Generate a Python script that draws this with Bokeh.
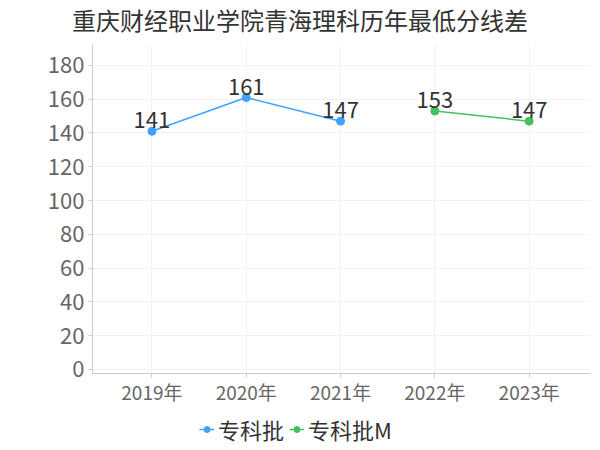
from bokeh.plotting import figure
from bokeh.layouts import column
from bokeh.models import (ColumnDataSource, Legend, LegendItem, FixedTicker, Range1d,
                          LabelSet, Div)
from bokeh.core.properties import value
from bokeh.embed import file_html
from bokeh.resources import INLINE

title_text = "重庆财经职业学院青海理科历年最低分线差"
years = ["2019年", "2020年", "2021年", "2022年", "2023年"]
s1_name = "专科批"
s1_x = [0, 1, 2]
s1_y = [141, 161, 147]
s2_name = "专科批M"
s2_x = [3, 4]
s2_y = [153, 147]
y_ticks = [0, 20, 40, 60, 80, 100, 120, 140, 160, 180]

FONT = "Noto Sans CJK SC"
BLUE = "#3fa2ff"
GREEN = "#43c25c"

# title
t = Div(text=title_text, width=600, height=40,
        styles={"font-size": "24px", "font-family": FONT, "color": "#333333",
                "text-align": "center", "line-height": "40px", "width": "600px",
                "margin": "0", "padding": "0"})

# main chart
p = figure(width=600, height=370, output_backend="svg", toolbar_location=None,
           x_range=Range1d(-0.63, 4.65), y_range=Range1d(-2.4, 192.4),
           min_border_left=92, min_border_right=10, min_border_top=4,
           min_border_bottom=37)
p.outline_line_color = None
p.background_fill_color = "white"

src1 = ColumnDataSource(dict(x=s1_x, y=s1_y, t=[str(v) for v in s1_y]))
src2 = ColumnDataSource(dict(x=s2_x, y=s2_y, t=[str(v) for v in s2_y]))

l1 = p.line("x", "y", source=src1, line_color=BLUE, line_width=1.5)
c1 = p.scatter("x", "y", source=src1, size=8, fill_color=BLUE, line_color=BLUE)
l2 = p.line("x", "y", source=src2, line_color=GREEN, line_width=1.5)
c2 = p.scatter("x", "y", source=src2, size=8, fill_color=GREEN, line_color=GREEN)

for src in (src1, src2):
    p.add_layout(LabelSet(x="x", y="y", text="t", source=src, text_align="center",
                          text_baseline="alphabetic", y_offset=3, text_font=value(FONT),
                          text_font_size=value("22px"), text_color=value("#333333")))

p.xaxis.ticker = FixedTicker(ticks=list(range(len(years))))
p.xaxis.major_label_overrides = {i: y for i, y in enumerate(years)}
p.xaxis.major_label_text_font = FONT
p.xaxis.major_label_text_font_size = "19px"
p.xaxis.major_label_text_color = "#666666"
p.xaxis.axis_line_color = "#cccccc"
p.xaxis.major_tick_line_color = "#cccccc"
p.xaxis.major_tick_in = 0
p.xaxis.major_tick_out = 4
p.xaxis.minor_tick_line_color = None
p.xaxis.major_label_standoff = 0

p.yaxis.ticker = FixedTicker(ticks=y_ticks)
p.yaxis.major_label_text_font = FONT
p.yaxis.major_label_text_font_size = "22px"
p.yaxis.major_label_text_color = "#666666"
p.yaxis.axis_line_color = "#cccccc"
p.yaxis.major_tick_line_color = "#cccccc"
p.yaxis.major_tick_in = 0
p.yaxis.major_tick_out = 4
p.yaxis.minor_tick_line_color = None
p.yaxis.major_label_standoff = 4

p.xgrid.grid_line_color = "#f2f2f2"
p.ygrid.grid_line_color = "#f2f2f2"

# legend strip
q = figure(width=600, height=40, output_backend="svg", toolbar_location=None,
           x_range=Range1d(0, 1), y_range=Range1d(0, 1),
           min_border=0, outline_line_color=None)
q.axis.visible = False
q.grid.visible = False
ql1 = q.line([-10, -9], [-10, -10], line_color=BLUE, line_width=1.5)
qc1 = q.scatter([-10], [-10], size=8, fill_color=BLUE, line_color=BLUE)
ql2 = q.line([-10, -9], [-10, -10], line_color=GREEN, line_width=1.5)
qc2 = q.scatter([-10], [-10], size=8, fill_color=GREEN, line_color=GREEN)
legend = Legend(items=[LegendItem(label=s1_name, renderers=[ql1, qc1]),
                       LegendItem(label=s2_name, renderers=[ql2, qc2])],
                orientation="horizontal", location=(107, 5),
                label_text_font=FONT, label_text_font_size="22px",
                label_text_color="#333333", glyph_width=15, label_standoff=4,
                spacing=5, border_line_color=None, background_fill_alpha=0,
                padding=2, margin=0)
q.add_layout(legend, "center")

open("out.html", "w").write(file_html(column(t, p, q, spacing=0), INLINE))
